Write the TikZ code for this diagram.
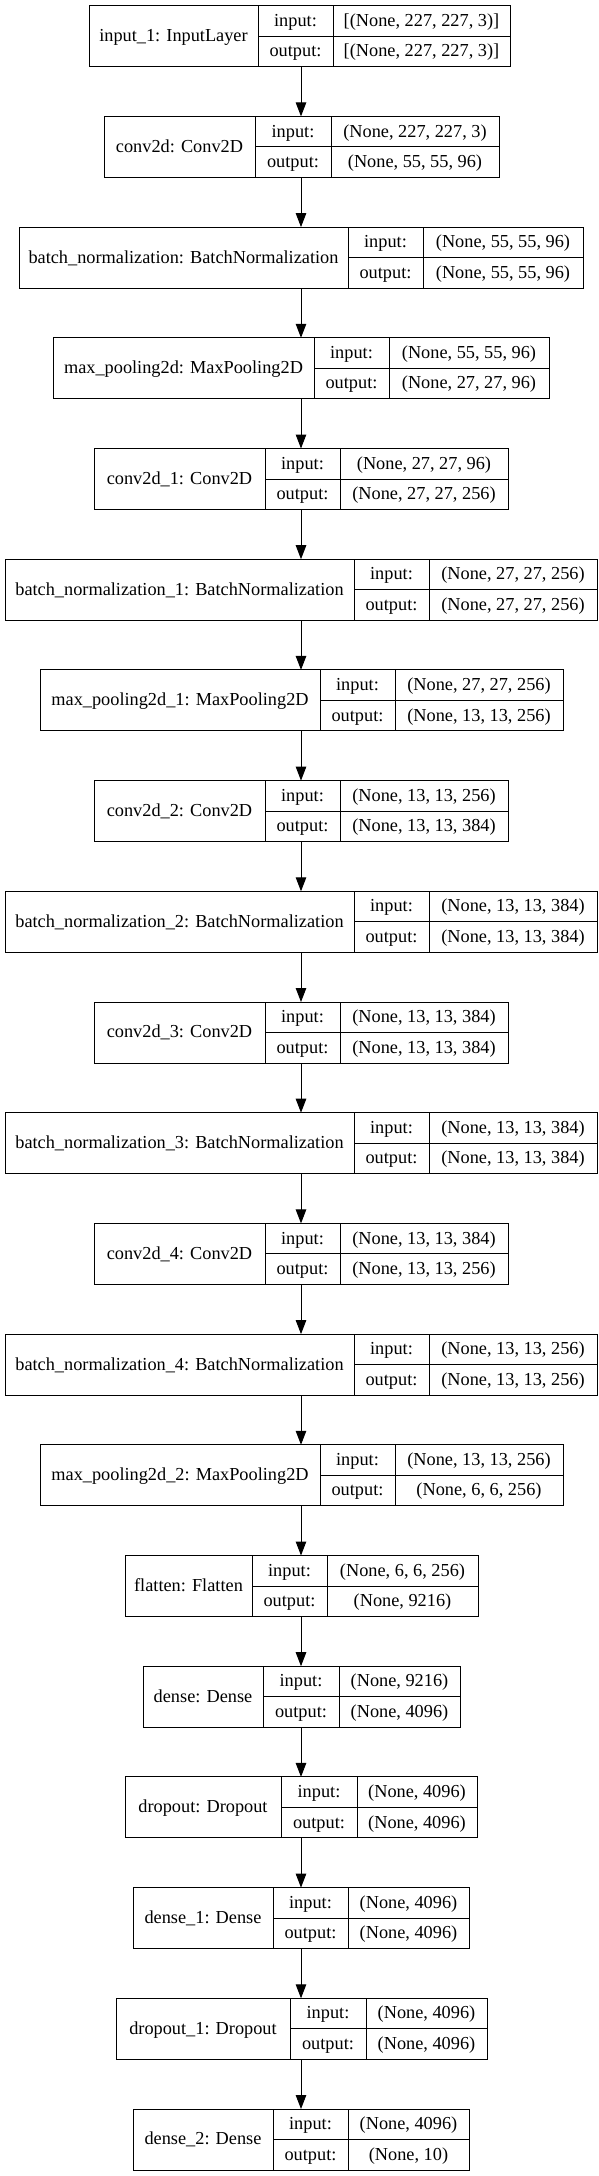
\documentclass[tikz,border=0pt]{standalone}
\usepackage{fontspec}
\setmainfont{Liberation Serif}
\usetikzlibrary{arrows.meta}
\tikzset{
  layerbox/.style={draw=black, line width=1pt, rectangle, inner sep=0pt, outer sep=0pt, anchor=north west},
  cell/.style={inner sep=0pt, font=\fontsize{18.3}{20}\selectfont, text=black, text height=14.8pt, text depth=4pt},
  divline/.style={draw=black, line width=1pt},
  flow/.style={draw=black, line width=1pt, -{Triangle[length=14pt,width=10.5pt]}},
}
\newcommand\kerasLayer[9]{%
  \pgfmathsetmacro\ktop{5.7+(#2-1)*110.7}%
  \pgfmathsetmacro\kbot{\ktop+61}%
  \pgfmathsetmacro\kmid{\ktop+30.5}%
  \pgfmathsetmacro\kup{\ktop+15.25}%
  \pgfmathsetmacro\klo{\ktop+45.75}%
  \pgfmathsetmacro\kw{#6-#3}%
  \node[layerbox, minimum width=\kw pt, minimum height=61pt] (#1) at (#3,\ktop) {};
  \draw[divline] (#4,\ktop) -- (#4,\kbot) (#5,\ktop) -- (#5,\kbot) (#4,\kmid) -- (#6,\kmid);
  \node[cell] (#1-lab) at ({(#3+#4)/2},\kmid) {#7};
  \node[cell] (#1-ik) at ({(#4+#5)/2},\kup) {input:};
  \node[cell] (#1-iv) at ({(#5+#6)/2},\kup) {#8};
  \node[cell] (#1-ok) at ({(#4+#5)/2},\klo) {output:};
  \node[cell] (#1-ov) at ({(#5+#6)/2},\klo) {#9};
}
\begin{document}
\begin{tikzpicture}[x=1pt,y=-1pt]
\useasboundingbox[fill=white] (0,0) rectangle (599,2176);
\coordinate (ax) at (301,0);
\kerasLayer{b1}{1}{89}{258}{333}{510}{input\_1: InputLayer}{[(None, 227, 227, 3)]}{[(None, 227, 227, 3)]}
\kerasLayer{b2}{2}{104}{255}{331}{499}{conv2d: Conv2D}{(None, 227, 227, 3)}{(None, 55, 55, 96)}
\kerasLayer{b3}{3}{19}{348}{423}{583}{batch\_normalization: BatchNormalization}{(None, 55, 55, 96)}{(None, 55, 55, 96)}
\kerasLayer{b4}{4}{53}{314}{389}{549}{max\_pooling2d: MaxPooling2D}{(None, 55, 55, 96)}{(None, 27, 27, 96)}
\kerasLayer{b5}{5}{94}{265}{340}{508}{conv2d\_1: Conv2D}{(None, 27, 27, 96)}{(None, 27, 27, 256)}
\kerasLayer{b6}{6}{5}{354}{429}{597}{batch\_normalization\_1: BatchNormalization}{(None, 27, 27, 256)}{(None, 27, 27, 256)}
\kerasLayer{b7}{7}{40}{320}{395}{563}{max\_pooling2d\_1: MaxPooling2D}{(None, 27, 27, 256)}{(None, 13, 13, 256)}
\kerasLayer{b8}{8}{94}{265}{340}{508}{conv2d\_2: Conv2D}{(None, 13, 13, 256)}{(None, 13, 13, 384)}
\kerasLayer{b9}{9}{5}{354}{429}{597}{batch\_normalization\_2: BatchNormalization}{(None, 13, 13, 384)}{(None, 13, 13, 384)}
\kerasLayer{b10}{10}{94}{265}{340}{508}{conv2d\_3: Conv2D}{(None, 13, 13, 384)}{(None, 13, 13, 384)}
\kerasLayer{b11}{11}{5}{354}{429}{597}{batch\_normalization\_3: BatchNormalization}{(None, 13, 13, 384)}{(None, 13, 13, 384)}
\kerasLayer{b12}{12}{94}{265}{340}{508}{conv2d\_4: Conv2D}{(None, 13, 13, 384)}{(None, 13, 13, 256)}
\kerasLayer{b13}{13}{5}{354}{429}{597}{batch\_normalization\_4: BatchNormalization}{(None, 13, 13, 256)}{(None, 13, 13, 256)}
\kerasLayer{b14}{14}{40}{320}{395}{563}{max\_pooling2d\_2: MaxPooling2D}{(None, 13, 13, 256)}{(None, 6, 6, 256)}
\kerasLayer{b15}{15}{125}{252}{327}{478}{flatten: Flatten}{(None, 6, 6, 256)}{(None, 9216)}
\kerasLayer{b16}{16}{143}{263}{339}{460}{dense: Dense}{(None, 9216)}{(None, 4096)}
\kerasLayer{b17}{17}{125}{281}{357}{477}{dropout: Dropout}{(None, 4096)}{(None, 4096)}
\kerasLayer{b18}{18}{133}{273}{348}{469}{dense\_1: Dense}{(None, 4096)}{(None, 4096)}
\kerasLayer{b19}{19}{116}{290}{366}{487}{dropout\_1: Dropout}{(None, 4096)}{(None, 4096)}
\kerasLayer{b20}{20}{133}{273}{348}{469}{dense\_2: Dense}{(None, 4096)}{(None, 10)}
\foreach \a/\b in {b1/b2,b2/b3,b3/b4,b4/b5,b5/b6,b6/b7,b7/b8,b8/b9,b9/b10,b10/b11,b11/b12,b12/b13,b13/b14,b14/b15,b15/b16,b16/b17,b17/b18,b18/b19,b19/b20}
  \draw[flow] (\a.south -| ax) -- (\b.north -| ax);
\end{tikzpicture}
\end{document}
